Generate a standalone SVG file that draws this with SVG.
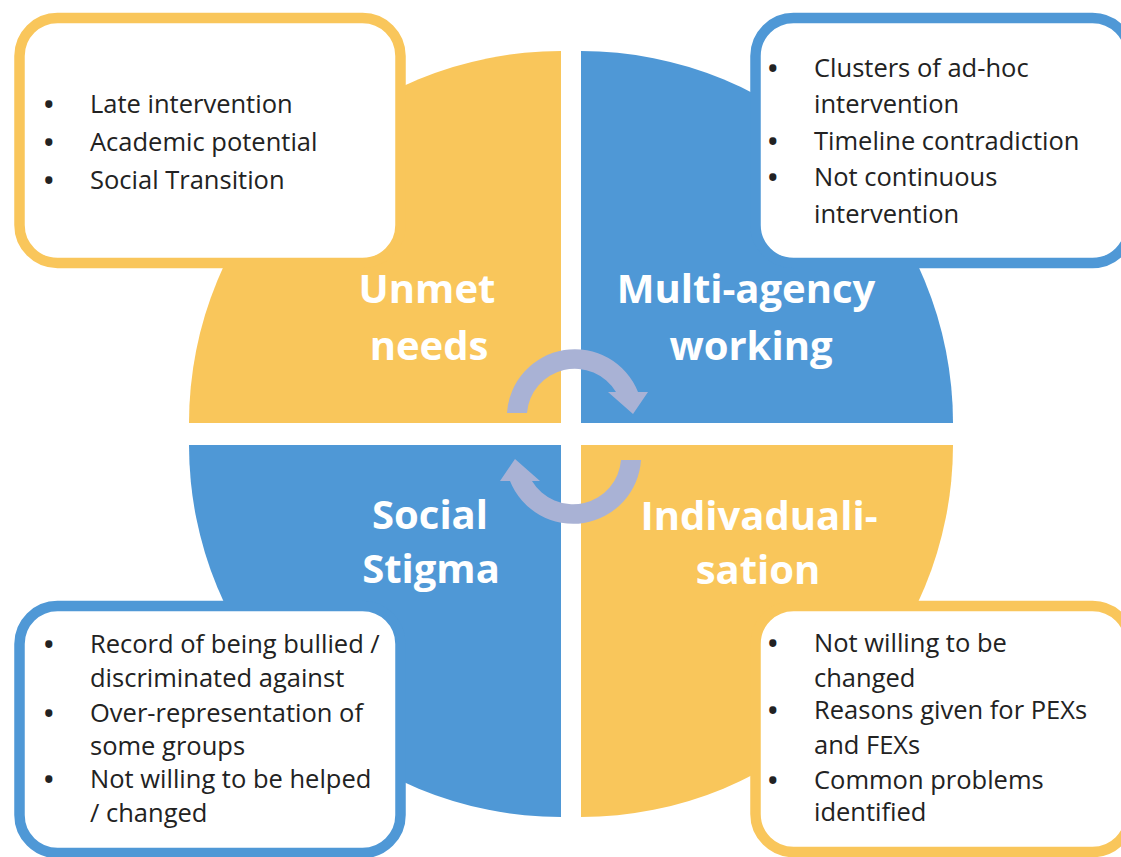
<svg xmlns="http://www.w3.org/2000/svg" width="1121" height="857" viewBox="0 0 1121 857">
<style>
.y{fill:#F9C65B}
.b{fill:#4F98D6}
.boxy{fill:#fff;stroke:#F9C65B;stroke-width:10.5}
.boxb{fill:#fff;stroke:#4F98D6;stroke-width:10.5}
.title{font-family:"Open Sans","Liberation Sans",sans-serif;font-weight:bold;font-size:40px;fill:#fff;text-anchor:middle}
.body{font-family:"Open Sans","Liberation Sans",sans-serif;font-size:25.5px;fill:#222}
.bul{font-weight:bold}
.arr{fill:#A9B2D5}
</style>
<rect width="1121" height="857" fill="#fff"/>
<g id="q-unmet">
<path class="y" d="M561,423 L189,423 A372,372 0 0 1 561,51 Z"/>
<text class="title" x="427" y="303">Unmet</text>
<text class="title" x="429" y="360">needs</text>
</g>
<g id="q-multi">
<path class="b" d="M581,423 L581,51 A372,372 0 0 1 953,423 Z"/>
<text class="title" x="746" y="303">Multi-agency</text>
<text class="title" x="751" y="360">working</text>
</g>
<g id="q-stigma">
<path class="b" d="M561,445 L561,817 A372,372 0 0 1 189,445 Z"/>
<text class="title" x="430" y="529">Social</text>
<text class="title" x="431" y="583">Stigma</text>
</g>
<g id="q-indiv">
<path class="y" d="M581,445 L953,445 A372,372 0 0 1 581,817 Z"/>
<text class="title" x="759" y="530">Indivaduali-</text>
<text class="title" x="758" y="584">sation</text>
</g>
<g id="connectors">
<path class="arr" d="M507,413 A68,68 0 0 1 638,392 L648,392 L633,414 L608,392 L616,392 A48,48 0 0 0 527,413 Z"/>
<path class="arr" transform="rotate(180 574 436.5)" d="M507,413 A68,68 0 0 1 638,392 L648,392 L633,414 L608,392 L616,392 A48,48 0 0 0 527,413 Z"/>
</g>
<g id="box-unmet">
<rect class="boxy" x="19.5" y="18" width="381" height="245" rx="38"/>
<text class="body"><tspan class="bul" x="44" y="113">•</tspan><tspan x="90" y="113">Late intervention</tspan><tspan class="bul" x="44" y="151">•</tspan><tspan x="90" y="151">Academic potential</tspan><tspan class="bul" x="44" y="189">•</tspan><tspan x="90" y="189">Social Transition</tspan></text>
</g>
<g id="box-multi">
<rect class="boxb" x="755.5" y="18" width="375" height="245" rx="38"/>
<text class="body"><tspan class="bul" x="768" y="77">•</tspan><tspan x="814" y="77">Clusters of ad-hoc</tspan><tspan x="814" y="113">intervention</tspan><tspan class="bul" x="768" y="150">•</tspan><tspan x="814" y="150">Timeline contradiction</tspan><tspan class="bul" x="768" y="186">•</tspan><tspan x="814" y="186">Not continuous</tspan><tspan x="814" y="223">intervention</tspan></text>
</g>
<g id="box-stigma">
<rect class="boxb" x="19.5" y="606" width="381" height="247" rx="38"/>
<text class="body"><tspan class="bul" x="44" y="653">•</tspan><tspan x="90" y="653">Record of being bullied /</tspan><tspan x="90" y="687">discriminated against</tspan><tspan class="bul" x="44" y="722">•</tspan><tspan x="90" y="722">Over-representation of</tspan><tspan x="90" y="755">some groups</tspan><tspan class="bul" x="44" y="788">•</tspan><tspan x="90" y="788">Not willing to be helped</tspan><tspan x="90" y="822">/ changed</tspan></text>
</g>
<g id="box-indiv">
<rect class="boxy" x="755.5" y="606" width="375" height="246" rx="38"/>
<text class="body"><tspan class="bul" x="768" y="652">•</tspan><tspan x="814" y="652">Not willing to be</tspan><tspan x="814" y="687">changed</tspan><tspan class="bul" x="768" y="719">•</tspan><tspan x="814" y="719">Reasons given for PEXs</tspan><tspan x="814" y="754">and FEXs</tspan><tspan class="bul" x="768" y="789">•</tspan><tspan x="814" y="789">Common problems</tspan><tspan x="814" y="821">identified</tspan></text>
</g>
</svg>
